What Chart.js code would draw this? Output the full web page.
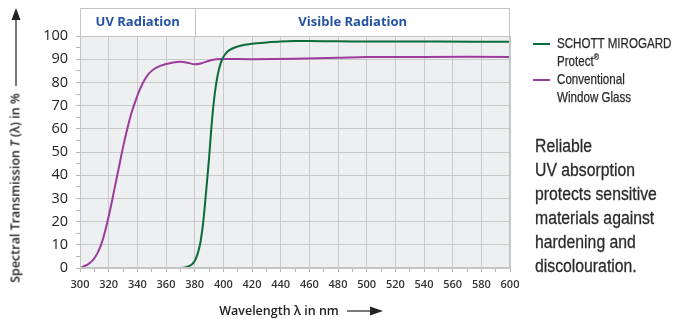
<!DOCTYPE html>
<html>
<head>
<meta charset="utf-8">
<script src="https://cdn.jsdelivr.net/npm/chart.js@4.4.1/dist/chart.umd.min.js"></script>
<style>
  html, body { margin: 0; padding: 0; background: #fff; }
  #wrap { position: relative; width: 673px; height: 319px; overflow: hidden; }
  #chart { position: absolute; left: 0; top: 0; }
  .band { position: absolute; top: 21px; transform: translate(-50%, -50%); white-space: nowrap;
          font: 700 13px "Open Sans", sans-serif; color: #2452a3; }
  .ytitle { position: absolute; left: 15px; top: 188px; transform: translate(-50%, -50%) rotate(-90deg);
            white-space: nowrap; font: 600 12.5px "Open Sans", sans-serif; color: #222; }
  .xtitle { position: absolute; left: 279px; top: 310px; transform: translate(-50%, -50%);
            white-space: nowrap; font: 600 12.5px "Open Sans", sans-serif; color: #222; }
  /* narrow look: Liberation Sans squeezed horizontally */
  .legend { position: absolute; left: 533px; top: 34px; font: 14.5px "Liberation Sans", sans-serif;
            color: #2a2a2a; line-height: 18px; white-space: nowrap; -webkit-text-stroke: 0.25px #2a2a2a; }
  .legend .item { position: relative; padding-left: 24px; }
  .legend .swatch { position: absolute; left: 0; top: 9px; width: 17px; height: 2px; }
  .legend .txt { transform: scaleX(0.8); transform-origin: left top; }
  .note { position: absolute; left: 535px; top: 134px; font: 19px "Liberation Sans", sans-serif;
          color: #2a2a2a; line-height: 24px; white-space: nowrap; -webkit-text-stroke: 0.3px #2a2a2a;
          transform: scaleX(0.83); transform-origin: left top; }
</style>
</head>
<body>
<div id="wrap">
  <canvas id="chart" width="673" height="319"></canvas>
  <div class="band" id="bandUV"></div>
  <div class="band" id="bandVis"></div>
  <div class="ytitle">Spectral Transmission <i>T</i> (λ) in %</div>
  <div class="xtitle">Wavelength λ in nm</div>
  <div class="legend" id="legend"></div>
  <div class="note" id="note"></div>
</div>
<script>
// Wavelength axis (nm) and transmission values (%)
const X_MIN = 300;
const X_MAX = 600;
const UV_LIMIT = 380;

const mirogardNm = [300, 340, 370, 374, 378, 380, 382, 384, 386, 388, 390, 392, 394, 396, 398, 400, 403, 406, 410, 415, 420, 430, 440, 450, 460, 480, 500, 550, 600];
const mirogardT  = [0, 0, 0, 0.3, 1.5, 3, 6, 11, 20, 33, 47, 63, 75, 83, 88, 91, 93.3, 94.5, 95.5, 96.2, 96.7, 97.2, 97.6, 97.8, 97.8, 97.7, 97.6, 97.6, 97.5];

const windowNm = [300, 303, 306, 309, 312, 315, 318, 321, 324, 327, 330, 333, 336, 339, 342, 345, 348, 352, 356, 360, 365, 370, 375, 380, 385, 390, 395, 400, 420, 450, 480, 500, 540, 600];
const windowT  = [0, 0.8, 1.8, 3.4, 6.2, 10.5, 17, 25, 34, 43, 52, 60, 67, 72.5, 77.3, 81, 83.8, 85.9, 87.1, 87.9, 88.6, 88.9, 88.5, 87.8, 88.3, 89.3, 90, 90.1, 90, 90.2, 90.6, 90.9, 91, 91];

const seriesNames = [['SCHOTT MIROGARD', 'Protect®'], ['Conventional', 'Window Glass']];
const seriesColors = ['#0b6b3c', '#9b3b9b'];
const bandLabels = ['UV Radiation', 'Visible Radiation'];
const noteLines = ['Reliable', 'UV absorption', 'protects sensitive', 'materials against', 'hardening and', 'discolouration.'];

function toPoints(xs, ys) {
    return xs.map((x, i) => ({ x: x, y: ys[i] }));
}

// Plot background, header band, frame and axis arrows
const decorPlugin = {
    id: 'decor',
    beforeDraw(chart) {
        const { ctx, chartArea: a } = chart;
        ctx.save();
        ctx.fillStyle = '#eeeff1';
        ctx.fillRect(a.left, a.top, a.right - a.left, a.bottom - a.top);
        ctx.restore();
    },
    afterDraw(chart) {
        const { ctx, chartArea: a, scales } = chart;
        const split = Math.round(scales.x.getPixelForValue(UV_LIMIT)) + 0.5;
        ctx.save();
        ctx.strokeStyle = '#c4c4c4';
        ctx.lineWidth = 1;
        // header band
        ctx.fillStyle = '#fff';
        ctx.fillRect(a.left, 8, a.right - a.left, a.top - 8);
        ctx.strokeRect(a.left + 0.5, 8.5, a.right - a.left - 1, a.top - 8);
        ctx.beginPath();
        ctx.moveTo(split, 8.5);
        ctx.lineTo(split, a.top);
        ctx.stroke();
        // frame around plot
        ctx.strokeRect(a.left + 0.5, a.top + 0.5, a.right - a.left - 1, a.bottom - a.top - 1);

        // y-axis arrow
        ctx.strokeStyle = '#222';
        ctx.fillStyle = '#222';
        ctx.lineWidth = 1.2;
        ctx.beginPath();
        ctx.moveTo(16, 86);
        ctx.lineTo(16, 18);
        ctx.stroke();
        ctx.beginPath();
        ctx.moveTo(16, 8);
        ctx.lineTo(20.5, 20);
        ctx.lineTo(11.5, 20);
        ctx.closePath();
        ctx.fill();
        // x-axis arrow
        ctx.beginPath();
        ctx.moveTo(347, 311);
        ctx.lineTo(372, 311);
        ctx.stroke();
        ctx.beginPath();
        ctx.moveTo(383, 311);
        ctx.lineTo(370, 306.5);
        ctx.lineTo(370, 315.5);
        ctx.closePath();
        ctx.fill();
        ctx.restore();

        // header band labels (HTML text)
        document.getElementById('bandUV').style.left = ((a.left + split) / 2) + 'px';
        document.getElementById('bandVis').style.left = ((split + a.right) / 2) + 'px';
    }
};

document.getElementById('bandUV').textContent = bandLabels[0];
document.getElementById('bandVis').textContent = bandLabels[1];

// Legend and side note
const legendEl = document.getElementById('legend');
seriesNames.forEach((lines, i) => {
    const item = document.createElement('div');
    item.className = 'item';
    const sw = document.createElement('span');
    sw.className = 'swatch';
    sw.style.background = seriesColors[i];
    item.appendChild(sw);
    const txt = document.createElement('div');
    txt.className = 'txt';
    lines.forEach((t) => {
        const line = document.createElement('div');
        if (t.endsWith('®')) {
            line.innerHTML = t.slice(0, -1) + '<sup style="font-size:9px;line-height:0">®</sup>';
        } else {
            line.textContent = t;
        }
        txt.appendChild(line);
    });
    item.appendChild(txt);
    legendEl.appendChild(item);
});
document.getElementById('note').innerHTML = noteLines.join('<br>');

new Chart(document.getElementById('chart'), {
    type: 'line',
    data: {
        datasets: [
            {
                label: seriesNames[0].join(' '),
                data: toPoints(mirogardNm, mirogardT),
                borderColor: seriesColors[0],
                borderWidth: 2,
                pointRadius: 0,
                fill: false,
                tension: 0.3
            },
            {
                label: seriesNames[1].join(' '),
                data: toPoints(windowNm, windowT),
                borderColor: seriesColors[1],
                borderWidth: 2,
                pointRadius: 0,
                fill: false,
                tension: 0.3
            }
        ]
    },
    options: {
        responsive: false,
        animation: false,
        layout: { padding: { left: 0, top: 36, right: 163, bottom: 0 } },
        plugins: {
            legend: { display: false },
            tooltip: { enabled: false }
        },
        scales: {
            x: {
                type: 'linear',
                min: X_MIN,
                max: X_MAX,
                afterFit: (s) => { s.height = 51; },
                border: { color: '#c4c4c4' },
                grid: {
                    color: (c) => (c.tick && c.tick.value % 20 === 0 ? '#c9c9c9' : 'rgba(0,0,0,0)'),
                    tickColor: '#b5b5b5',
                    tickLength: 4
                },
                ticks: {
                    stepSize: 10,
                    autoSkip: false,
                    maxRotation: 0,
                    padding: 6,
                    color: '#333',
                    font: { family: 'Open Sans', size: 11, weight: '600' },
                    callback: (v) => (v % 20 === 0 ? String(v) : '')
                }
            },
            y: {
                min: 0,
                max: 100,
                afterFit: (s) => { s.width = 80; },
                border: { color: '#c4c4c4' },
                grid: {
                    color: (c) => (c.tick && c.tick.value % 10 === 0 ? '#c9c9c9' : 'rgba(0,0,0,0)'),
                    tickColor: '#b5b5b5',
                    tickLength: 4
                },
                ticks: {
                    stepSize: 5,
                    autoSkip: false,
                    padding: 8,
                    color: '#222',
                    font: { family: 'Open Sans', size: 14.5 },
                    callback: (v) => (v % 10 === 0 ? String(v) : '')
                }
            }
        }
    },
    plugins: [decorPlugin]
});
</script>
</body>
</html>
